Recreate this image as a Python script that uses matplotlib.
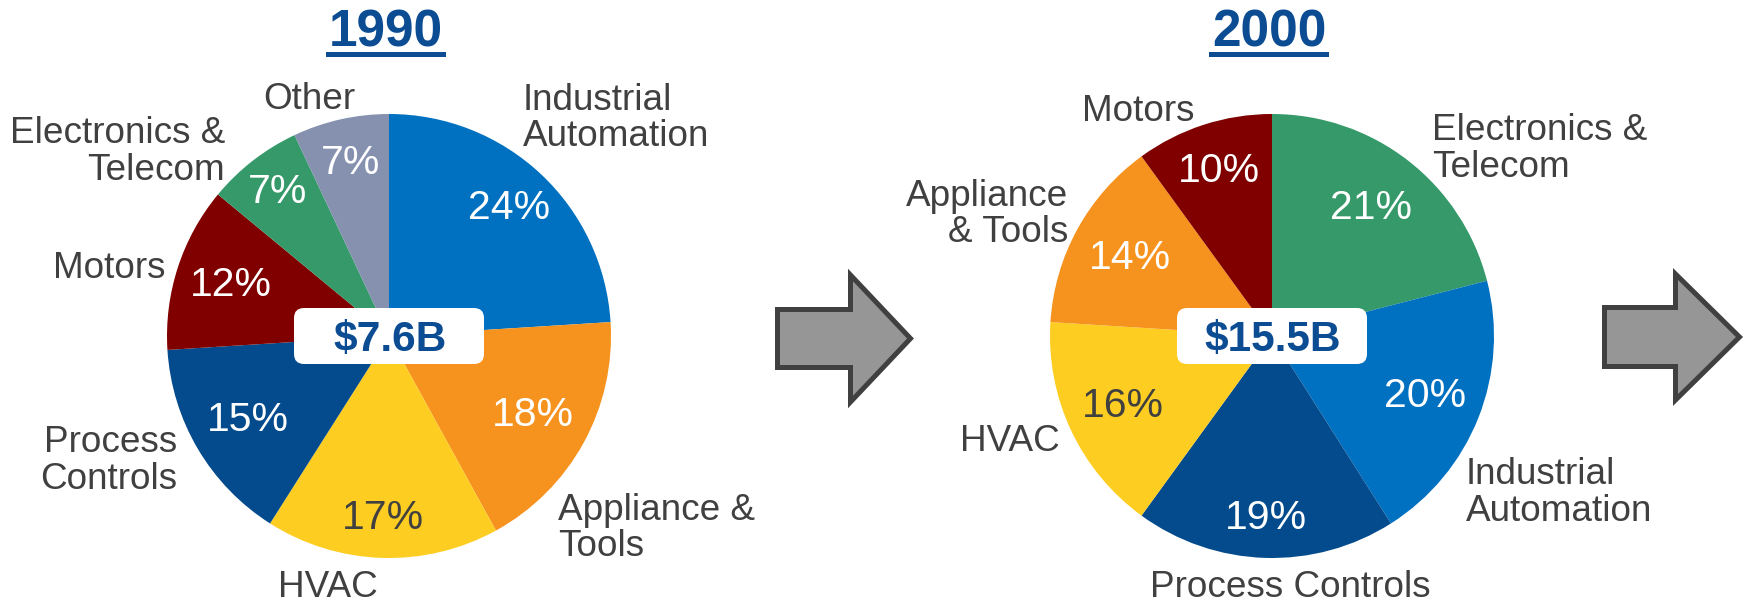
import matplotlib
matplotlib.use('Agg')
import matplotlib.pyplot as plt
from matplotlib.patches import FancyArrow, FancyBboxPatch, Rectangle
import numpy as np

plt.rcParams['font.family'] = ['Liberation Sans', 'DejaVu Sans']

W, H = 1747, 604

# data
years = ['1990', '2000']
totals = ['$7.6B', '$15.5B']

labels_1990 = ['Industrial\nAutomation', 'Appliance &\nTools', 'HVAC', 'Process\nControls',
               'Motors', 'Electronics &\nTelecom', 'Other']
values_1990 = [24, 18, 17, 15, 12, 7, 7]

labels_2000 = ['Electronics &\nTelecom', 'Industrial\nAutomation', 'Process Controls', 'HVAC',
               'Appliance\n& Tools', 'Motors']
values_2000 = [21, 20, 19, 16, 14, 10]

seg_colors = {
    'Industrial Automation': '#0070C0',
    'Appliance & Tools': '#F6921E',
    'HVAC': '#FDCD21',
    'Process Controls': '#034B8C',
    'Motors': '#800000',
    'Electronics & Telecom': '#35996A',
    'Other': '#8591AF',
}

# layout (pixel coords from top-left)
blue = '#0B4C93'
grey_txt = '#404040'
R = 222
centers = [(389, 336), (1272, 336)]
title_x = [386, 1269]

# outer label placement: (x, first baseline, ha)
lab_pos_1990 = [(523, 109.5, 'left'), (558, 519.5, 'left'), (328, 597, 'center'),
                (177, 452.5, 'right'), (166, 278, 'right'), (225, 143, 'right'),
                (309, 109, 'center')]
lab_pos_2000 = [(1432, 140.5, 'left'), (1466, 484.5, 'left'), (1290, 597, 'center'),
                (1060, 451, 'right'), (1068, 206, 'right'), (1138, 121, 'center')]
pct_r_1990 = [0.79, 0.74, 0.82, 0.74, 0.75, 0.82, 0.80]
pct_r_2000 = [0.73, 0.74, 0.82, 0.74, 0.73, 0.78]

fig = plt.figure(figsize=(W / 100, H / 100), dpi=100)
ax = fig.add_axes([0, 0, 1, 1])
ax.set_xlim(0, W)
ax.set_ylim(0, H)
ax.set_aspect('equal')
ax.axis('off')


def Y(y):
    return H - y


def draw_label(x, y, text, ha, size=26.6, color=grey_txt, gap=36.5):
    for i, line in enumerate(text.split('\n')):
        ax.text(x, Y(y + i * gap), line, ha=ha, va='baseline', fontsize=size, color=color)


groups = [(labels_1990, values_1990, lab_pos_1990, pct_r_1990),
          (labels_2000, values_2000, lab_pos_2000, pct_r_2000)]

for k, (labs, vals, lpos, pr) in enumerate(groups):
    cx, cy = centers[k]
    cols = [seg_colors[l.replace('\n', ' ')] for l in labs]
    wedges, _ = ax.pie(vals, colors=cols, startangle=90, counterclock=False,
                       center=(cx, Y(cy)), radius=R, frame=True,
                       wedgeprops=dict(linewidth=0))
    for w, v, rf, lab in zip(wedges, vals, pr, labs):
        mid = np.deg2rad((w.theta1 + w.theta2) / 2)
        tc = grey_txt if lab == 'HVAC' else 'white'
        ax.text(cx + rf * R * np.cos(mid), Y(cy) + rf * R * np.sin(mid), f'{v}%',
                ha='center', va='center', fontsize=29.5, color=tc)
    for (x, y, ha), lab in zip(lpos, labs):
        draw_label(x, y, lab, ha)

    # centre total box
    ax.add_patch(FancyBboxPatch((cx - 95, Y(cy) - 28), 190, 56,
                                boxstyle='round,pad=0,rounding_size=10',
                                fc='white', ec='none', zorder=5))
    ax.text(cx + 1, Y(351), totals[k], ha='center', va='baseline', fontsize=30.6,
            fontweight='bold', color=blue, zorder=6)

    # underlined year title
    t = ax.text(title_x[k], Y(46.7), years[k], ha='center', va='baseline', fontsize=37,
                fontweight='bold', color=blue)
    ax.add_patch(Rectangle((title_x[k] - 60, Y(57)), 120, 5, fc=blue, ec='none'))

ax.set_xlim(0, W)
ax.set_ylim(0, H)

# arrows
for x0, dx, yc, wd, hw, hl in [(777.5, 133, 338.5, 58, 127, 60),
                               (1604.5, 135, 337, 59, 126, 64)]:
    ax.add_patch(FancyArrow(x0, Y(yc), dx, 0, width=wd, head_width=hw, head_length=hl,
                            length_includes_head=True, fc='#969696', ec='#404040',
                            lw=3.6, joinstyle='miter'))

fig.savefig('out.png', dpi=100, facecolor='white')
